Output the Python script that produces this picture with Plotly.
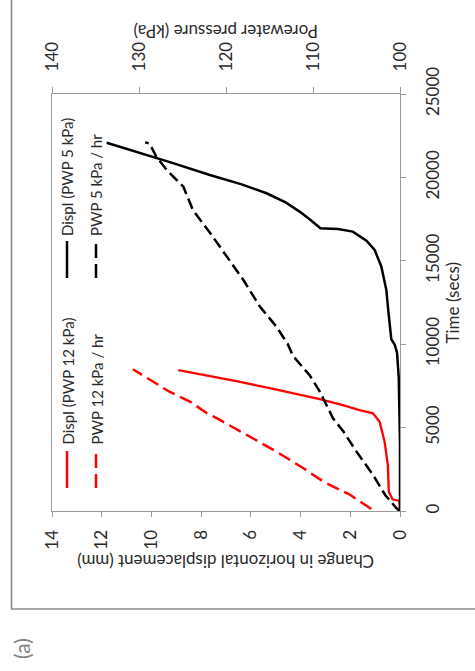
import plotly.graph_objects as go

# Time (s) vs change in horizontal displacement (mm), PWP ramp 5 kPa/hr
time_displ_5 = [0, 4000, 8000, 9500, 10000, 10300, 12000, 13250, 14650, 15650, 16200,
                16500, 16750, 16900, 16950, 17450, 17950, 18500, 19050, 19600, 20140,
                20840, 21400, 22080]
displ_5 = [0, 0, 0.05, 0.12, 0.22, 0.35, 0.47, 0.55, 0.75, 1.02, 1.35,
           1.65, 1.9, 2.5, 3.2, 3.6, 4.04, 4.6, 5.37, 6.4, 7.65,
           9.1, 10.3, 11.8]

# Time (s) vs change in horizontal displacement (mm), PWP ramp 12 kPa/hr
time_displ_12 = [0, 600, 700, 860, 1160, 2760, 4150, 5350, 5860, 6050, 6350,
                 6710, 7000, 7360, 7790, 8150, 8450]
displ_12 = [0, 0.02, 0.3, 0.35, 0.45, 0.49, 0.62, 0.82, 1.09, 1.63, 2.30,
            3.23, 4.17, 5.24, 6.58, 7.92, 8.92]

# Time (s) vs porewater pressure (kPa), 5 kPa/hr ramp
time_pwp_5 = [0, 160, 960, 2160, 3560, 4760, 5560, 7150, 8150, 9300, 10000, 11050,
              12250, 13850, 15250, 16650, 18040, 19440, 20440, 21240, 22040, 22100]
pwp_5 = [100, 100.4, 101.7, 103.1, 105.0, 106.5, 107.7, 109.2, 110.4, 112.3, 112.9, 114.2,
         116.1, 118.0, 119.9, 121.8, 123.8, 124.9, 126.8, 128.0, 128.8, 129.3]

# Time (s) vs porewater pressure (kPa), 12 kPa/hr ramp
time_pwp_12 = [120, 960, 1760, 2560, 3560, 4360, 5460, 5860, 6550, 7150, 7850, 8500]
pwp_12 = [103.3, 105.7, 108.8, 111.1, 114.2, 116.9, 120.7, 122.2, 124.1, 126.5, 128.6, 130.7]

series_names = ["Displ (PWP 12 kPa)", "Displ (PWP 5 kPa)", "PWP 12 kPa / hr", "PWP 5 kPa / hr"]

displ_ticks = [0, 2, 4, 6, 8, 10, 12, 14]
pwp_ticks = [100, 110, 120, 130, 140]
time_ticks = [0, 5000, 10000, 15000, 20000, 25000]

W, H = 475, 671
L, R, T, B = 52, 400, 94, 511  # plot area in pixels


def px(x):
    return (x - L) / (R - L)


def py(y):
    return (B - y) / (B - T)


RED = "#ff0000"
BLK = "#000000"
AX = "#9a9a9a"
TXT = "#2b2b2b"
FONT = "Lato"

fig = go.Figure()
fig.add_trace(go.Scatter(x=displ_12, y=time_displ_12, mode="lines", name=series_names[0],
                         line=dict(color=RED, width=2.3), xaxis="x", yaxis="y"))
fig.add_trace(go.Scatter(x=displ_5, y=time_displ_5, mode="lines", name=series_names[1],
                         line=dict(color=BLK, width=2.5), xaxis="x", yaxis="y"))
fig.add_trace(go.Scatter(x=pwp_12, y=time_pwp_12, mode="lines", name=series_names[2],
                         line=dict(color=RED, width=2.5, dash="13px,6px"), xaxis="x2", yaxis="y"))
fig.add_trace(go.Scatter(x=pwp_5, y=time_pwp_5, mode="lines", name=series_names[3],
                         line=dict(color=BLK, width=2.5, dash="11px,5px"), xaxis="x2", yaxis="y"))

tickfont = dict(family=FONT, size=17, color=TXT)
fig.update_layout(
    width=W, height=H,
    margin=dict(l=L, r=W - R, t=T, b=H - B, pad=0),
    paper_bgcolor="white", plot_bgcolor="white",
    showlegend=False,
    xaxis=dict(range=[14, 0], tickvals=displ_ticks, tickangle=-90, ticks="outside",
               ticklen=5, tickcolor=AX, showline=True, linecolor=AX, linewidth=1.3,
               showgrid=False, zeroline=False, tickfont=tickfont, ticklabelstandoff=6),
    xaxis2=dict(range=[140, 100], tickvals=pwp_ticks, tickangle=-90, ticks="outside",
                ticklen=6, tickcolor=AX, showline=True, linecolor=AX, linewidth=1.3,
                showgrid=False, zeroline=False, overlaying="x", side="top",
                tickfont=tickfont, ticklabelstandoff=12),
    yaxis=dict(range=[0, 25000], tickvals=time_ticks, ticktext=[str(t) for t in time_ticks],
               tickangle=-90, ticks="outside",
               ticklen=5, tickcolor=AX, showline=True, linecolor=AX, linewidth=1.3,
               mirror=True, showgrid=False, zeroline=False, side="right",
               tickfont=tickfont, ticklabelstandoff=12),
)

titlefont = dict(family=FONT, size=17, color=TXT)
annotations = [
    dict(text="Change in horizontal displacement (mm)", x=0.5, y=py(562), textangle=180,
         font=titlefont),
    dict(text="Porewater pressure (kPa)", x=0.5, y=py(32), textangle=180, font=titlefont),
    dict(text="Time (secs)", x=px(452), y=0.5, textangle=-90, font=titlefont),
    dict(text="(a)", x=px(21), y=py(649), textangle=-90,
         font=dict(family=FONT, size=21, color="#808080")),
]
for a in annotations:
    a["xanchor"] = "center"
    a["yanchor"] = "middle"
# legend labels, rotated with the chart
legfont = dict(family=FONT, size=15, color=TXT)
leg_pos = [(67, 447), (67, 238), (96, 447), (96, 238)]
for name, (lx, ly) in zip(series_names, leg_pos):
    annotations.append(dict(text=name, x=px(lx), y=py(ly), textangle=-90, font=legfont,
                            xanchor="center", yanchor="bottom"))
for a in annotations:
    a.setdefault("xref", "paper")
    a.setdefault("yref", "paper")
    a.setdefault("showarrow", False)
fig.update_layout(annotations=annotations)

shapes = [
    # outer panel frame
    dict(type="rect", xref="paper", yref="paper", x0=px(11.5), x1=px(520), y0=py(609),
         y1=py(-40), line=dict(color="#8a8a8a", width=1.6), layer="below"),
    # legend keys
    dict(type="line", xref="paper", yref="paper", x0=px(67), x1=px(67), y0=py(488), y1=py(451),
         line=dict(color=RED, width=2.5)),
    dict(type="line", xref="paper", yref="paper", x0=px(67), x1=px(67), y0=py(278), y1=py(241),
         line=dict(color=BLK, width=2.5)),
    dict(type="line", xref="paper", yref="paper", x0=px(96), x1=px(96), y0=py(488), y1=py(451),
         line=dict(color=RED, width=2.5, dash="14px,6px")),
    dict(type="line", xref="paper", yref="paper", x0=px(96), x1=px(96), y0=py(278), y1=py(241),
         line=dict(color=BLK, width=2.5, dash="14px,6px")),
]
fig.update_layout(shapes=shapes)

fig.write_html("out.html")
